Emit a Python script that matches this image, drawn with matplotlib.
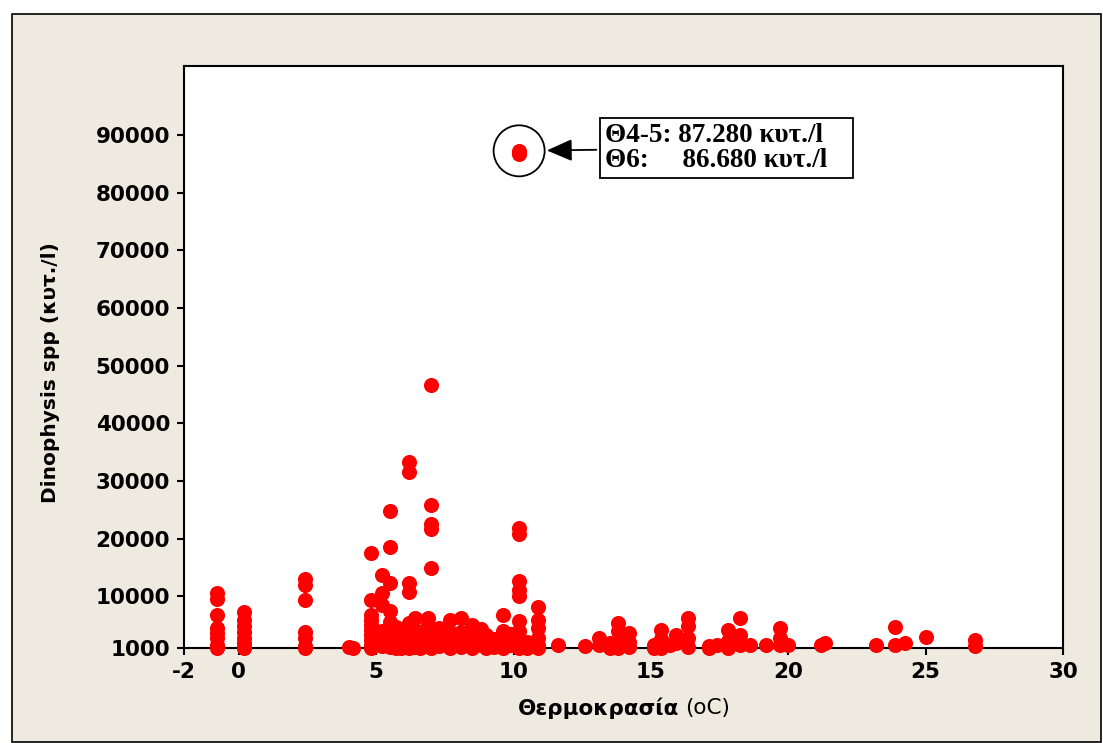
import matplotlib.pyplot as plt
import matplotlib.patches as mpatches
import numpy as np

# temperature columns (oC) and Dinophysis counts (cells/l) read at each
temps = [-0.8, 0.2, 2.4, 4.0, 4.15, 4.8, 5.2, 5.5, 5.7, 5.9, 6.2, 6.4, 6.6, 6.9, 7.0,
         7.3, 7.7, 8.1, 8.3, 8.5, 8.8, 9.0, 9.3, 9.6, 9.9, 10.2, 10.5, 10.9, 11.6,
         12.6, 13.1, 13.5, 13.8, 14.2, 15.1, 15.35, 15.7, 15.9, 16.35, 17.1, 17.4,
         17.8, 18.25, 18.6, 19.2, 19.7, 20.0, 21.2, 21.35, 23.2, 23.9, 24.25, 25.0, 26.8]
counts = [
    [10500, 9500, 6800, 4400, 3600, 2700, 1500, 1000],
    [7200, 5900, 4800, 3700, 2700, 1800, 1200, 1000],
    [13000, 12000, 9400, 3700, 2700, 1400, 1000],
    [1200],
    [1000],
    [17500, 9400, 6700, 5800, 5000, 4200, 3200, 2400, 1600, 1000],
    [13600, 10500, 8400, 4000, 2600, 1300],
    [24700, 18500, 12200, 7400, 5500, 3600, 2200, 1200],
    [4600, 3000, 1800, 1000],
    [3000, 1500, 1000],
    [33200, 31600, 12200, 10800, 5300, 3500, 2000, 1000],
    [6200, 4200, 2500, 1200],
    [3800, 2200, 1000],
    [6200, 5000, 3000, 1500],
    [46600, 25800, 22500, 21700, 14800, 4000, 2200, 1000],
    [4500, 2800, 1300],
    [5800, 3700, 2000, 1000],
    [6200, 3800, 2400, 1200],
    [3000, 1500],
    [5000, 3500, 2000, 1000],
    [4300, 2800, 1500],
    [3200, 1800, 1000],
    [2500, 1200],
    [6700, 4000, 2200, 1000],
    [3500, 1500],
    [87280, 86680, 21800, 20800, 12700, 11000, 10000, 5600, 4000, 2700, 1500, 1000],
    [2000, 1000],
    [8200, 5800, 4400, 2700, 1500, 1000],
    [1500],
    [1300],
    [2700, 1500],
    [1800, 1000],
    [5300, 4000, 2000, 1000],
    [3600, 2000, 1200],
    [1500, 1000],
    [4100, 2500, 1000],
    [1500],
    [3200, 1800],
    [6200, 4800, 2700, 1200],
    [1400, 1000],
    [1500],
    [4100, 2200, 1000],
    [6200, 3200, 1500],
    [1500],
    [1500],
    [4400, 2700, 1500],
    [1500],
    [1500],
    [1900],
    [1500],
    [4600, 1500],
    [1900],
    [2900],
    [2400, 1300],
]
xticks = [-2, 0, 5, 10, 15, 20, 25, 30]
yticks = [1000, 10000, 20000, 30000, 40000, 50000, 60000, 70000, 80000, 90000]
peak_t, peak_c = 10.2, 87280

x = np.repeat(temps, [len(c) for c in counts])
y = np.concatenate(counts)

beige = '#EEEAE0'
fig = plt.figure(figsize=(11.03, 7.43), dpi=100, facecolor='white')
fig.patches.append(mpatches.Rectangle((12/1103, 1/743), 1089/1103, 728/743,
                                      transform=fig.transFigure, facecolor=beige,
                                      edgecolor='black', linewidth=1.2, zorder=-10))
ax = fig.add_axes([184/1103, 95/743, 879/1103, 582/743])
ax.set_facecolor('white')

ax.scatter(x, y, s=118, color='#FF0000', linewidths=0, zorder=3, clip_on=False)

# circle around the peak value and annotation box
ax.scatter([peak_t], [peak_c], s=1350, facecolors='none', edgecolors='black',
           linewidths=1.3, zorder=4)
ax.annotate('Θ4-5: 87.280 κυτ./l\nΘ6:     86.680 κυτ./l   ',
            xy=(peak_t, peak_c), xytext=(62, 2), textcoords='offset points',
            ha='left', va='center', fontsize=19.5, fontweight='bold',
            family='Liberation Serif', linespacing=1.0,
            bbox=dict(boxstyle='square,pad=0.2', fc='white', ec='black', lw=1.3),
            arrowprops=dict(arrowstyle='-|>,head_length=0.8,head_width=0.35',
                            color='black', lw=1.3, shrinkB=20))

ax.set_xlim(-2, 30)
ax.set_ylim(1000, 102000)
ax.set_xticks(xticks)
ax.set_yticks(yticks)
ax.set_xticklabels([str(t) for t in xticks], fontsize=15.5, fontweight='bold')
ax.set_yticklabels([str(t) for t in yticks], fontsize=15.5, fontweight='bold')
ax.tick_params(direction='out', length=5, width=1.5, pad=5)
for sp in ax.spines.values():
    sp.set_linewidth(1.5)

# x label: bold word, plain unit
ax.text(0.563, -0.103, 'Θερμοκρασία', transform=ax.transAxes, ha='right',
        va='center', fontsize=15.5, fontweight='bold')
ax.text(0.570, -0.103, '(oC)', transform=ax.transAxes, ha='left',
        va='center', fontsize=15.5)
ax.set_ylabel('Dinophysis spp (κυτ./l)', fontsize=14.5, fontweight='bold')
ax.yaxis.set_label_coords(-0.141, 0.474)

fig.savefig('out.png', dpi=100, facecolor='white')
